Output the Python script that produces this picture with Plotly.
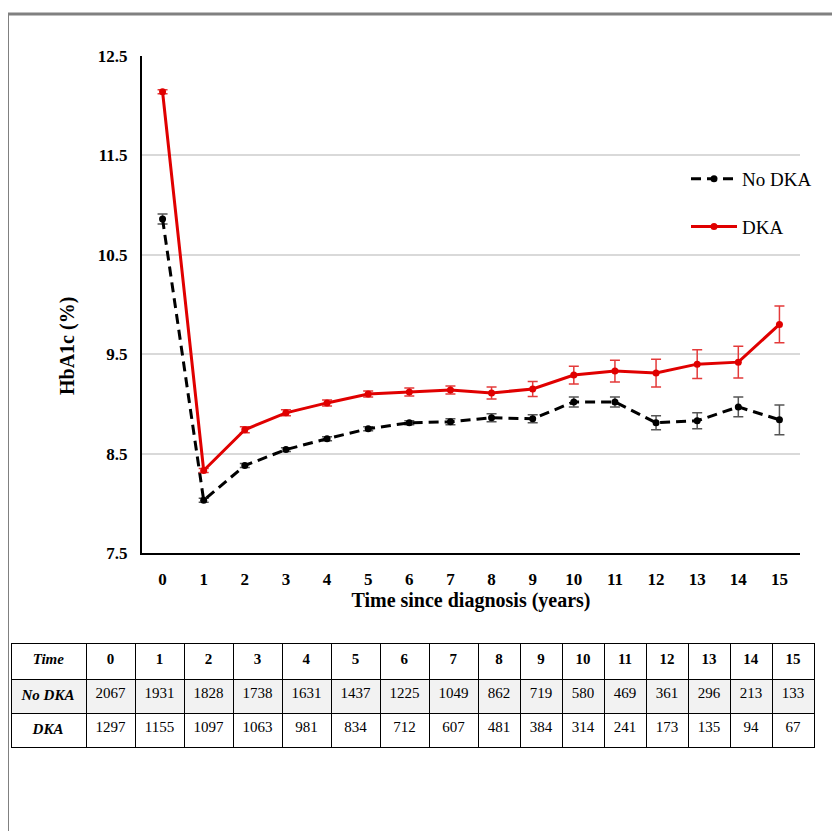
import plotly.graph_objects as go

years = list(range(16))
no_dka = [10.86, 8.03, 8.38, 8.54, 8.65, 8.75, 8.81, 8.82, 8.86, 8.85, 9.02, 9.02, 8.81, 8.83, 8.97, 8.84]
no_dka_err = [0.05, 0.02, 0.02, 0.02, 0.02, 0.02, 0.02, 0.03, 0.04, 0.04, 0.05, 0.05, 0.07, 0.08, 0.10, 0.15]
dka = [12.14, 8.33, 8.74, 8.91, 9.01, 9.10, 9.12, 9.14, 9.11, 9.15, 9.29, 9.33, 9.31, 9.40, 9.42, 9.80]
dka_err = [0.02, 0.02, 0.03, 0.03, 0.03, 0.03, 0.04, 0.04, 0.06, 0.075, 0.09, 0.11, 0.14, 0.145, 0.16, 0.185]

n_no_dka = [2067, 1931, 1828, 1738, 1631, 1437, 1225, 1049, 862, 719, 580, 469, 361, 296, 213, 133]
n_dka = [1297, 1155, 1097, 1063, 981, 834, 712, 607, 481, 384, 314, 241, 173, 135, 94, 67]
row_labels = ["No DKA", "DKA"]
y_ticks = [7.5, 8.5, 9.5, 10.5, 11.5, 12.5]

W, H = 840, 831
OFF = 8  # page body margin
SERIF = "Liberation Serif, Times New Roman, serif"
RED = "#e00000"


def px_x(x):
    return (x - OFF) / W


def px_y(y):
    return (H - (y - OFF)) / H


fig = go.Figure()

fig.add_trace(go.Scatter(
    x=years, y=no_dka, name="No DKA", mode="lines+markers",
    line=dict(color="black", width=3, dash="10px,6px"),
    marker=dict(color="black", size=7),
    error_y=dict(type="data", array=no_dka_err, color="#555555", thickness=1.5, width=5),
    legendgroup="a",
))
fig.add_trace(go.Scatter(
    x=years, y=dka, name="DKA", mode="lines+markers",
    line=dict(color=RED, width=3),
    marker=dict(color=RED, size=7),
    error_y=dict(type="data", array=dka_err, color="#e43a3a", thickness=1.5, width=5),
    legendgroup="b",
))

header_vals = ["<b><i>Time</i></b>"] + [f"<b>{t}</b>" for t in years]
cell_vals = [[f"<b><i>{r}</i></b>" for r in row_labels]] + [[a, b] for a, b in zip(n_no_dka, n_dka)]
fills = [["#f2f2f2", "white"]] * (len(years) + 1)

fig.add_trace(go.Table(
    domain=dict(x=[px_x(11), px_x(814)], y=[px_y(800), px_y(643)]),
    columnwidth=[75] + [49] * 8 + [42] * 8,
    header=dict(values=header_vals, height=36, align="center",
                line=dict(color="black", width=1), fill=dict(color="white"),
                font=dict(family=SERIF, size=15, color="black")),
    cells=dict(values=cell_vals, height=34, align="center",
               line=dict(color="black", width=1), fill=dict(color=fills),
               font=dict(family=SERIF, size=15, color="black")),
))

fig.update_layout(
    template=None,
    width=W, height=H, autosize=False,
    margin=dict(l=0, r=0, t=0, b=0),
    paper_bgcolor="white", plot_bgcolor="white",
    font=dict(family=SERIF, color="black"),
    showlegend=True,
    legend=dict(x=px_x(686), y=px_y(160), xanchor="left", yanchor="top",
                font=dict(family=SERIF, size=19, color="black"),
                bgcolor="rgba(0,0,0,0)", tracegroupgap=20, itemwidth=46),
    xaxis=dict(domain=[px_x(142), px_x(800)], range=[-0.5, 15.5], automargin=False,
               tickmode="array", tickvals=years, ticktext=[str(t) for t in years],
               showgrid=False, zeroline=False, showline=True, linecolor="black", linewidth=2,
               ticks="", ticklabelstandoff=10,
               tickfont=dict(family=SERIF, size=17, color="black", weight="bold"),
               title=dict(text="<b>Time since diagnosis (years)</b>", standoff=4,
                          font=dict(family=SERIF, size=20, color="black"))),
    yaxis=dict(domain=[px_y(553), px_y(56)], range=[7.5, 12.5], automargin=False,
               tickmode="array", tickvals=y_ticks, ticktext=[f"{v:.1f}" for v in y_ticks],
               showgrid=True, gridcolor="#d9d9d9", gridwidth=1.5,
               zeroline=False, showline=True, linecolor="black", linewidth=2,
               ticks="", ticklabelstandoff=9,
               tickfont=dict(family=SERIF, size=17, color="black", weight="bold")),
    annotations=[dict(text="<b>HbA1c (%)</b>", x=px_x(67), y=px_y(346), xref="paper", yref="paper",
                      xanchor="center", yanchor="middle",
                      textangle=-90, showarrow=False,
                      font=dict(family=SERIF, size=20, color="black"))],
    shapes=[
        dict(type="line", xref="paper", yref="paper", x0=px_x(6), x1=1.0, y0=px_y(14), y1=px_y(14),
             line=dict(color="#808080", width=3)),
        dict(type="line", xref="paper", yref="paper", x0=px_x(7.5), x1=px_x(7.5), y0=0, y1=px_y(13),
             line=dict(color="#808080", width=3)),
    ],
)

fig.write_html("out.html")
